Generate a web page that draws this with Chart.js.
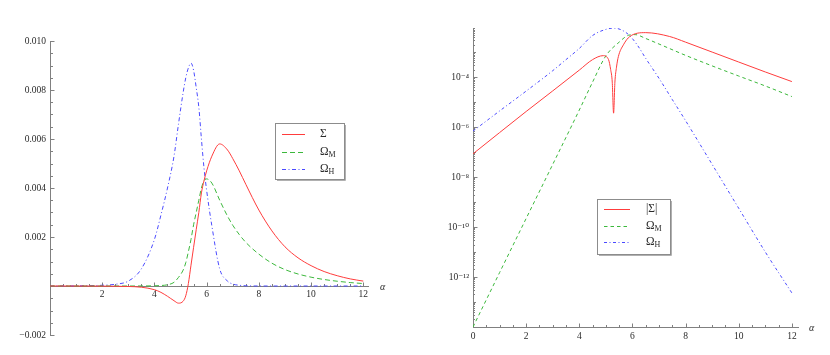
<!DOCTYPE html>
<html><head><meta charset="utf-8">
<script src="https://cdn.jsdelivr.net/npm/chart.js@4/dist/chart.umd.min.js"></script>
<style>
html,body{margin:0;padding:0;background:#fff;}
#wrap{position:relative;width:830px;height:355px;overflow:hidden;}
.panel{position:absolute;top:0;width:415px;height:355px;}
</style></head><body>
<div id="wrap">
<div class="panel" style="left:0"><canvas id="left" width="415" height="355"></canvas></div>
<div class="panel" style="left:415px"><canvas id="right" width="415" height="355"></canvas></div>
</div>
<script>
// ---------------- DATA ----------------
// Left panel (linear scale): Σ, Ω_M, Ω_H versus α
const leftAlpha = [0,1,2,2.5,3,3.5,4,4.25,4.5,4.75,4.92,5.1,5.2,5.3,5.4,5.5,5.6,5.7,5.8,5.9,6,6.2,6.5,6.8,7,7.25,7.5,8,8.5,9,9.5,10,10.5,11,11.5,12];
const leftSigma = [-1e-7,-1e-6,-5e-6,-1e-5,-2e-5,-5e-5,-1.5e-4,-2.6e-4,-4.2e-4,-6.0e-4,-7.0e-4,-6.2e-4,-4.0e-4,1.0e-4,8.5e-4,1.58e-3,2.3e-3,3.0e-3,3.8e-3,4.3e-3,4.7e-3,5.3e-3,5.8e-3,5.55e-3,5.2e-3,4.7e-3,4.15e-3,3.1e-3,2.25e-3,1.6e-3,1.15e-3,8.3e-4,5.9e-4,4.2e-4,2.9e-4,2.0e-4];
const leftOmegaM = [0,0,0,0,0,1e-6,8e-6,2e-5,5e-5,1.5e-4,3.5e-4,6.5e-4,9.5e-4,1.4e-3,1.9e-3,2.5e-3,3.0e-3,3.5e-3,4.0e-3,4.3e-3,4.37e-3,4.2e-3,3.5e-3,2.85e-3,2.48e-3,2.1e-3,1.78e-3,1.3e-3,9.3e-4,6.7e-4,4.9e-4,3.6e-4,2.65e-4,1.95e-4,1.4e-4,1.0e-4];
const leftOmegaH = [1e-6,5e-6,3e-5,7e-5,2e-4,7e-4,1.9e-3,2.9e-3,4.0e-3,5.3e-3,6.6e-3,7.9e-3,8.5e-3,8.9e-3,9.1e-3,8.8e-3,8.1e-3,7.3e-3,6.0e-3,4.8e-3,3.9e-3,2.45e-3,7.0e-4,2.0e-4,8.0e-5,3.0e-5,1.0e-5,0,0,0,0,0,0,0,0,0];
const leftXTickValues = [0,2,4,6,8,10,12];
const leftXTickLabels = ['','2','4','6','8','10','12'];
const leftYTickValues = [-0.002,0,0.002,0.004,0.006,0.008,0.010];
const leftYTickLabels = ['\u22120.002','','0.002','0.004','0.006','0.008','0.010'];

// Right panel (log scale): |Σ|, Ω_M, Ω_H versus α
const rightAlphaSigma = [0,1,2,3,4,4.5,4.9,5.1,5.18,5.24,5.29,5.34,5.4,5.47,5.66,5.9,6.5,7.4,8,9,10,11,12];
const rightAbsSigma = [8.5e-8,6.0e-7,4.2e-6,2.8e-5,1.9e-4,5.0e-4,7.2e-4,5.0e-4,2.0e-4,6.3e-5,3.6e-6,6.3e-5,2.5e-4,6.6e-4,1.95e-3,4.2e-3,6.0e-3,4.2e-3,2.5e-3,1.0e-3,4.0e-4,1.6e-4,6.6e-5];
const rightAlphaM = [0,1,2,3,4,4.5,5,5.5,5.85,6.1,6.5,7,8,9,10,11,12];
const rightOmegaM = [1e-14,1.5e-12,2.2e-10,3.2e-8,4.8e-6,6.3e-5,7.1e-4,2.5e-3,4.7e-3,5.0e-3,3.5e-3,2.1e-3,7.4e-4,2.8e-4,1.1e-4,4.4e-5,1.66e-5];
const rightAlphaH = [0,1,2,3,3.5,4,4.5,5,5.3,5.6,5.9,6.2,6.5,7,7.5,8,9,10,11,12];
const rightOmegaH = [6.9e-7,4.4e-6,2.75e-5,1.8e-4,5.0e-4,1.4e-3,4.6e-3,8.1e-3,9.1e-3,7.6e-3,4.5e-3,1.8e-3,5.6e-4,8.9e-5,1.26e-5,1.8e-6,3.2e-8,5.6e-10,1.0e-11,2.3e-13];
const rightXTickValues = [0,2,4,6,8,10,12];
const rightXTickLabels = ['0','2','4','6','8','10','12'];
const rightYTickValues = [1e-12,1e-10,1e-8,1e-6,1e-4];
const rightYTickLabels = ['10\u207B\u00B9\u00B2','10\u207B\u00B9\u2070','10\u207B\u2078','10\u207B\u2076','10\u207B\u2074'];

// ---------------- STYLE ----------------
const SERIF = "'Liberation Serif','DejaVu Serif','Times New Roman',serif";
const AXIS = '#808080';
const TEXT = '#2a2a2a';
const RED = '#ff3c3c', GREEN = '#3cb83c', BLUE = '#4a4aff';

const xy = (xs, ys) => xs.map((x, i) => ({x, y: ys[i]}));

function range(a, b, s) { const r = []; for (let v = a; v <= b + 1e-9; v += s) r.push(+v.toFixed(6)); return r; }

const mmaAxes = {
  id: 'mmaAxes',
  beforeDatasetsDraw(chart, args, o) {
    const ctx = chart.ctx, xs = chart.scales.x, ys = chart.scales.y;
    const ax = xs.left;
    const ay = o.xAxisAt !== undefined ? ys.getPixelForValue(o.xAxisAt) : ys.bottom;
    ctx.save();
    ctx.strokeStyle = AXIS; ctx.lineWidth = 1;
    const seg = (x1, y1, x2, y2) => { ctx.beginPath(); ctx.moveTo(x1, y1); ctx.lineTo(x2, y2); ctx.stroke(); };
    const ayA = Math.round(ay) + 0.5, axA = Math.round(ax) + 0.5;
    [[o.xMajor, 4], [o.xMinor, 2.5]].forEach(([vals, len]) => vals.forEach(v => {
      const p = Math.round(xs.getPixelForValue(v)) + 0.5; seg(p, ayA, p, ayA - len);
    }));
    [[o.yMajor, 4], [o.yMinor, 2.5], [o.ySub || [], 1.5]].forEach(([vals, len]) => vals.forEach(v => {
      const p = ys.getPixelForValue(v);
      if (p < ys.top - 0.5 || p > ys.bottom + 0.5) return;
      const q = Math.round(p) + 0.5; seg(axA, q, axA + len, q);
    }));
    ctx.fillStyle = TEXT; ctx.font = 'italic 10px ' + SERIF;
    ctx.textBaseline = 'middle'; ctx.textAlign = 'left';
    ctx.fillText('\u03B1', xs.right + o.alphaGap, ay + 1);
    ctx.restore();
  },
  afterDatasetsDraw(chart, args, o) {
    const L = o.legend; if (!L) return;
    const ctx = chart.ctx;
    ctx.save();
    ctx.fillStyle = '#fff'; ctx.fillRect(L.x, L.y, L.w, L.h);
    ctx.strokeStyle = '#8c8c8c'; ctx.lineWidth = 1;
    ctx.strokeRect(L.x + 0.5, L.y + 0.5, L.w, L.h);
    ctx.strokeStyle = '#b0b0b0';
    ctx.beginPath(); ctx.moveTo(L.x + L.w + 1.5, L.y + 2); ctx.lineTo(L.x + L.w + 1.5, L.y + L.h + 1.5); ctx.lineTo(L.x + 2, L.y + L.h + 1.5); ctx.stroke();
    chart.data.datasets.forEach((ds, i) => {
      const y = Math.round(L.rowY[i]) + 0.5;
      ctx.strokeStyle = ds.borderColor; ctx.lineWidth = 1; ctx.setLineDash(ds.borderDash || []);
      ctx.beginPath(); ctx.moveTo(L.lineX1, y); ctx.lineTo(L.lineX2, y); ctx.stroke();
      ctx.setLineDash([]);
      const parts = ds.label.split('_');
      ctx.fillStyle = TEXT; ctx.textBaseline = 'middle'; ctx.textAlign = 'left';
      ctx.font = '11.5px ' + SERIF;
      ctx.fillText(parts[0], L.textX, L.rowY[i]);
      if (parts[1]) {
        const w = ctx.measureText(parts[0]).width;
        ctx.font = '8px ' + SERIF;
        ctx.fillText(parts[1], L.textX + w, L.rowY[i] + 3);
      }
    });
    ctx.restore();
  }
};

const tickFont = {family: SERIF, size: 9.5};

// ---------------- LEFT CHART ----------------
new Chart(document.getElementById('left'), {
  type: 'line',
  data: { datasets: [
    {label: '\u03A3', data: xy(leftAlpha, leftSigma), borderColor: RED, borderWidth: 1},
    {label: '\u03A9_M', data: xy(leftAlpha, leftOmegaM), borderColor: GREEN, borderWidth: 1, borderDash: [5, 3]},
    {label: '\u03A9_H', data: xy(leftAlpha, leftOmegaH), borderColor: BLUE, borderWidth: 1, borderDash: [4, 2.5, 1, 2.5]}
  ]},
  options: {
    responsive: false, animation: false, events: [],
    layout: {padding: {left: 0, top: 41, right: 47, bottom: 20}},
    elements: {point: {radius: 0}, line: {cubicInterpolationMode: 'monotone', fill: false}},
    plugins: {
      legend: {display: false}, tooltip: {enabled: false},
      mmaAxes: {
        xAxisAt: 0, alphaGap: 12,
        xMajor: leftXTickValues, xMinor: range(0.5, 12, 0.5).filter(v => v % 2 !== 0),
        yMajor: leftYTickValues, yMinor: range(-0.0015, 0.0095, 0.0005).filter((v, i) => (i % 4) !== 3),
        legend: {x: 275, y: 123, w: 69, h: 56, lineX1: 282, lineX2: 305, textX: 320, rowY: [134, 151.5, 169]}
      }
    },
    scales: {
      x: {
        type: 'linear', min: 0, max: 12.18, position: {y: 0},
        grid: {color: 'transparent', drawOnChartArea: false, drawTicks: false},
        border: {display: true, color: AXIS, width: 1},
        afterBuildTicks: s => { s.ticks = leftXTickValues.map(v => ({value: v})); },
        ticks: {padding: 3, color: TEXT, font: tickFont, maxRotation: 0, autoSkip: false,
                callback: (v, i) => leftXTickLabels[i]}
      },
      y: {
        type: 'linear', min: -0.002, max: 0.010, position: 'left',
        grid: {color: 'transparent', drawOnChartArea: false, drawTicks: false},
        border: {display: true, color: AXIS, width: 1},
        afterBuildTicks: s => { s.ticks = leftYTickValues.map(v => ({value: v})); },
        afterFit: s => { s.width = 50; },
        ticks: {padding: 4, color: TEXT, font: tickFont, autoSkip: false,
                callback: (v, i) => leftYTickLabels[i]}
      }
    }
  },
  plugins: [mmaAxes]
});

// ---------------- RIGHT CHART ----------------
const subTicks = [];
for (let e = -14; e <= -3; e++) for (let k = 2; k <= 9; k++) subTicks.push(k * Math.pow(10, e));
const oddDecades = [];
for (let e = -13; e <= -3; e += 2) oddDecades.push(Math.pow(10, e));

new Chart(document.getElementById('right'), {
  type: 'line',
  data: { datasets: [
    {label: '|\u03A3|', data: xy(rightAlphaSigma, rightAbsSigma), borderColor: RED, borderWidth: 1},
    {label: '\u03A9_M', data: xy(rightAlphaM, rightOmegaM), borderColor: GREEN, borderWidth: 1, borderDash: [3.5, 3]},
    {label: '\u03A9_H', data: xy(rightAlphaH, rightOmegaH), borderColor: BLUE, borderWidth: 1, borderDash: [3, 2.5, 1, 2.5]}
  ]},
  options: {
    responsive: false, animation: false, events: [],
    layout: {padding: {left: 0, top: 28, right: 32, bottom: 0}},
    elements: {point: {radius: 0}, line: {cubicInterpolationMode: 'monotone', fill: false}},
    plugins: {
      legend: {display: false}, tooltip: {enabled: false},
      mmaAxes: {
        alphaGap: 11,
        xMajor: rightXTickValues, xMinor: range(0.5, 12, 0.5).filter(v => v % 2 !== 0),
        yMajor: rightYTickValues, yMinor: oddDecades, ySub: subTicks,
        legend: {x: 182, y: 199, w: 73, h: 55, lineX1: 189, lineX2: 215, textX: 231, rowY: [209, 225.5, 242]}
      }
    },
    scales: {
      x: {
        type: 'linear', min: 0, max: 12.23, position: 'bottom',
        grid: {color: 'transparent', drawOnChartArea: false, drawTicks: false},
        border: {display: true, color: AXIS, width: 1},
        afterBuildTicks: s => { s.ticks = rightXTickValues.map(v => ({value: v})); },
        afterFit: s => { s.height = 28; },
        ticks: {padding: 4, color: TEXT, font: tickFont, maxRotation: 0, autoSkip: false,
                callback: (v, i) => rightXTickLabels[i]}
      },
      y: {
        type: 'logarithmic', min: 1e-14, max: 0.0092, position: 'left',
        grid: {color: 'transparent', drawOnChartArea: false, drawTicks: false},
        border: {display: true, color: AXIS, width: 1},
        afterBuildTicks: s => { s.ticks = rightYTickValues.map(v => ({value: v})); },
        afterFit: s => { s.width = 58; },
        ticks: {padding: 4, color: TEXT, font: tickFont, autoSkip: false,
                callback: (v, i) => rightYTickLabels[i]}
      }
    }
  },
  plugins: [mmaAxes]
});
</script>
</body></html>
